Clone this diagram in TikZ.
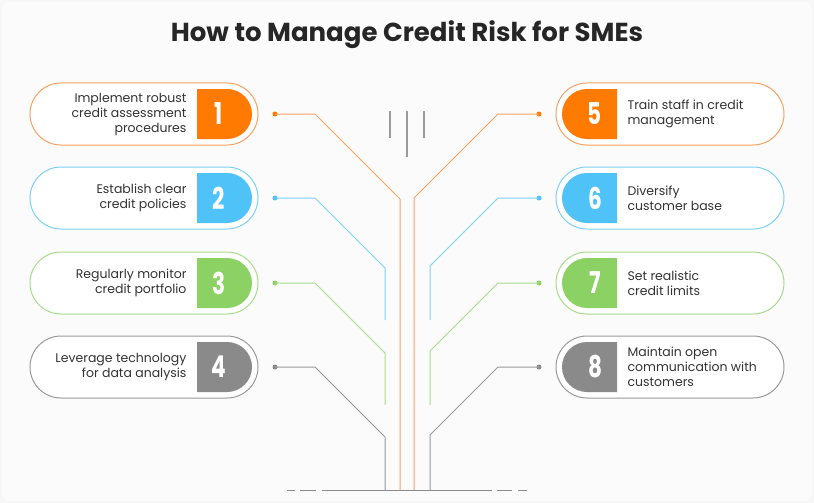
\documentclass[tikz,border=0pt]{standalone}
\usepackage{fontspec}
\setmainfont{Poppins}
\definecolor{cor}{HTML}{FF7A00}\definecolor{corl}{HTML}{F7A262}
\definecolor{cbl}{HTML}{4FC3F7}\definecolor{cbll}{HTML}{7FD0F5}
\definecolor{cgr}{HTML}{8CD164}\definecolor{cgrl}{HTML}{A8DC8C}
\definecolor{cgy}{HTML}{8A8A8A}\definecolor{cgyl}{HTML}{9A9A9A}
\definecolor{txt}{HTML}{333333}
\tikzset{
  pill/.style={draw=#1, line width=1pt, rounded corners=31pt, fill=white, minimum width=228pt, minimum height=62pt},
  ltxt/.style={text=txt, font=\fontsize{12.5}{15}\selectfont, align=right, anchor=east},
  rtxt/.style={text=txt, font=\fontsize{12.5}{15}\selectfont, align=left, anchor=west},
  num/.style={text=white, font=\fontsize{30}{30}\selectfont\bfseries},
  conn/.style={draw=#1, line width=1pt},
  dotc/.style={circle, fill=#1, inner sep=0pt, minimum size=5pt}
}
\begin{document}
\begin{tikzpicture}[x=1pt,y=1pt]
\fill[white!97!black] (0,0) rectangle (814,-503);
\fill[white!98.5!black, rounded corners=8pt] (2,-2) rectangle (812,-501);
\useasboundingbox (0,0) rectangle (814,-503);
\node[font=\fontsize{26}{30}\selectfont\bfseries, text=black!85] (title) at (407,-35) {How to Manage Credit Risk for SMEs};
% top marks
\draw[cgyl, line width=1.2pt] (390,-111) -- (390,-138);
\draw[cgyl, line width=1.2pt] (407,-111) -- (407,-157);
\draw[cgyl, line width=1.2pt] (424,-111) -- (424,-138);
% baseline
\draw[cgy, line width=1pt] (322,-490) -- (492,-490);
\draw[cgy, line width=1pt] (287,-490) -- (295,-490) (300,-490) -- (316,-490) (497,-490) -- (512,-490) (518,-490) -- (527,-490);
% rows
\foreach \y/\c/\cl/\n/\tl/\tr [count=\i] in {
  114/cor/corl/1/{Implement robust\\credit assessment\\procedures}/{5}/,
  198/cbl/cbll/2/{Establish clear\\credit policies}/{6}/,
  283/cgr/cgrl/3/{Regularly monitor\\credit portfolio}/{7}/,
  367/cgy/cgyl/4/{Leverage technology\\for data analysis}/{8}/}{
  \node[pill=\cl] (L\n) at (144,-\y) {};
  \fill[\c] (197,-\y+25) -- (227,-\y+25) arc[start angle=90,end angle=-90,radius=25] -- (197,-\y-25) -- cycle;
  \node[num] (LN\n) at (219,-\y) {\scalebox{0.72}[1]{\n}};
  \node[ltxt] (LT\n) at (190,-\y) {\tl};
}
\node[pill=corl] (R5) at (670,-114) {};
\node[pill=cbll] (R6) at (670,-198) {};
\node[pill=cgrl] (R7) at (670,-283) {};
\node[pill=cgyl] (R8) at (670,-367) {};
\foreach \y/\c/\n in {114/cor/5,198/cbl/6,283/cgr/7,367/cgy/8}{
  \fill[\c] (617,-\y+25) -- (587,-\y+25) arc[start angle=90,end angle=270,radius=25] -- (617,-\y-25) -- cycle;
  \node[num] (RN\n) at (595,-\y) {\scalebox{0.72}[1]{\n}};
}
\node[rtxt] (RT5) at (624,-114) {Train staff in credit\\management};
\node[rtxt] (RT6) at (624,-198) {Diversify\\customer base};
\node[rtxt] (RT7) at (624,-283) {Set realistic\\credit limits};
\node[rtxt] (RT8) at (624,-367) {Maintain open\\communication with\\customers};
% connectors
\foreach \y/\c/\cl/\xl/\xr/\e [count=\i] in {114/cor/corl/400/414/490, 198/cbl/cbll/385/430/320, 283/cgr/cgrl/385/430/405, 367/cgy/cgyl/385/430/490}{
  \node[dotc=\c] (dl\i) at (275,-\y) {};
  \node[dotc=\c] (dr\i) at (539,-\y) {};
  \pgfmathsetmacro{\dl}{\xl-315}
  \pgfmathsetmacro{\dr}{498-\xr}
  \draw[conn=\cl] (dl\i.center) -- (315,-\y) -- (\xl,-\y-\dl) -- (\xl,-\e);
  \draw[conn=\cl] (dr\i.center) -- (498,-\y) -- (\xr,-\y-\dr) -- (\xr,-\e);
}
\end{tikzpicture}
\end{document}
